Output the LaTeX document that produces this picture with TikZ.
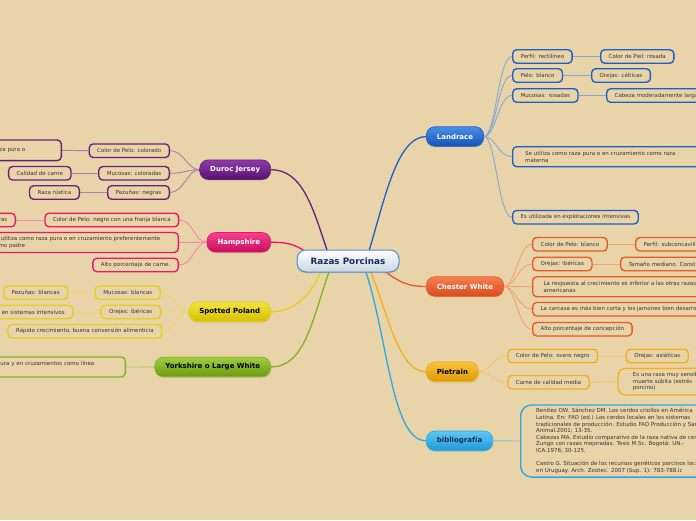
\documentclass[tikz,border=0pt]{standalone}
\usepackage{fontspec}
\setmainfont{DejaVu Sans}
\usetikzlibrary{backgrounds,shadows}
\definecolor{bg}{HTML}{E8D4A8}
\definecolor{txt}{HTML}{3C3530}
\definecolor{bluetop}{HTML}{4A8FE6}\definecolor{bluebot}{HTML}{1254B8}\definecolor{blueline}{HTML}{1C5FC8}\definecolor{bluelt}{HTML}{86A8D4}
\definecolor{ortop}{HTML}{F5804F}\definecolor{orbot}{HTML}{D94A1E}\definecolor{orline}{HTML}{E8582A}\definecolor{orlt}{HTML}{F2A078}
\definecolor{gotop}{HTML}{F9C43A}\definecolor{gobot}{HTML}{DE9A08}\definecolor{goline}{HTML}{F2B01C}\definecolor{golt}{HTML}{F3C865}
\definecolor{lbtop}{HTML}{5CC8F4}\definecolor{lbbot}{HTML}{1E9AD8}\definecolor{lbline}{HTML}{2AA8E6}\definecolor{lblt}{HTML}{78C4E8}
\definecolor{putop}{HTML}{8E3CA8}\definecolor{pubot}{HTML}{581270}\definecolor{puline}{HTML}{66207E}\definecolor{pult}{HTML}{A880B4}
\definecolor{pktop}{HTML}{F4418E}\definecolor{pkbot}{HTML}{C80F5E}\definecolor{pkline}{HTML}{E8166C}\definecolor{pklt}{HTML}{F08AAE}
\definecolor{yetop}{HTML}{F2E23E}\definecolor{yebot}{HTML}{D6C004}\definecolor{yeline}{HTML}{E6CF1A}\definecolor{yelt}{HTML}{E9DA6A}
\definecolor{grtop}{HTML}{A0CE42}\definecolor{grbot}{HTML}{6A9A12}\definecolor{grline}{HTML}{82B222}\definecolor{grlt}{HTML}{ADCA5E}
\definecolor{cbot}{HTML}{C9D5E2}\definecolor{cline}{HTML}{4A8FD0}\definecolor{ctext}{HTML}{1B2A55}
\newcommand\fs{\fontsize{5.5}{6.6}\selectfont}
\newcommand\fmn{\fontsize{7}{8}\selectfont\bfseries}
\newcommand\fcn{\fontsize{8.8}{10}\selectfont\bfseries}
\begin{document}
\begin{tikzpicture}[x=1pt,y=-1pt,
  sub/.style={draw, rounded corners=4pt, line width=1.35pt, fill=bg, font=\fs, text=txt, inner xsep=8pt, inner ysep=1pt, minimum height=13.5pt},
  subR/.style={sub, anchor=west},
  subL/.style={sub, anchor=east},
  mainbox/.style={rounded corners=8.5pt, line width=.7pt, minimum height=19.5pt, inner xsep=10.5pt, font=\fmn, drop shadow={opacity=.25, shadow xshift=0pt, shadow yshift=-1.2pt}},
  mainR/.style={mainbox, anchor=west},
  mainL/.style={mainbox, anchor=east},
  trunk/.style={line width=1.3pt},
  twig/.style={line width=.9pt}]
\useasboundingbox (0,0) rectangle (696,520);
\clip (0,0) rectangle (696,520);
\begin{pgfonlayer}{background}
\fill[bg] (0,0) rectangle (696,520);
\end{pgfonlayer}

% centre
\node[rounded corners=9pt, line width=1pt, draw=cline, top color=white, bottom color=cbot, minimum width=102pt, minimum height=22pt, font=\fcn, text=ctext, drop shadow={opacity=.25, shadow xshift=0pt, shadow yshift=-1.2pt}] (C) at (348,261) {Razas Porcinas};

% main branches
\node[mainR, top color=bluetop, bottom color=bluebot, draw=blueline, text=white] (L) at (426,136.5) {Landrace};
\node[mainR, top color=ortop, bottom color=orbot, draw=orline, text=white] (CW) at (426,286.5) {Chester White};
\node[mainR, top color=gotop, bottom color=gobot, draw=goline, text=black] (P) at (426,371.7) {Pietrain};
\node[mainR, top color=lbtop, bottom color=lbbot, draw=lbline, text=ctext] (B) at (426,440.8) {bibliografía};
\node[mainL, top color=putop, bottom color=pubot, draw=puline, text=white] (D) at (271,169.7) {Duroc Jersey};
\node[mainL, top color=pktop, bottom color=pkbot, draw=pkline, text=white] (H) at (271,242.3) {Hampshire};
\node[mainL, top color=yetop, bottom color=yebot, draw=yeline, text=black] (S) at (271,311.7) {Spotted Poland};
\node[mainL, top color=grtop, bottom color=grbot, draw=grline, text=black] (Y) at (271,366.9) {Yorkshire o Large White};

% Landrace
\begin{scope}[every node/.append style={draw=blueline}]
\node[subR] (l1) at (512,56.5) {Perfil: rectilíneo};
\node[subR] (l1a) at (600,56.5) {Color de Piel: rosada};
\node[subR] (l2) at (512,75.5) {Pelo: blanco};
\node[subR] (l2a) at (591,75.5) {Orejas: célticas};
\node[subR] (l3) at (512,95.5) {Mucosas: rosadas};
\node[subR] (l3a) at (606,95.5) {Cabeza moderadamente larga};
\node[subR, align=left, inner xsep=12.5pt, minimum height=20pt] (l4) at (512,156.7) {Se utiliza como raza pura o en cruzamiento como raza\rule{30pt}{0pt}\\materna};
\node[subR] (l5) at (512,217.2) {Es utilizada en explotaciones intensivas};
\end{scope}

% Chester White
\begin{scope}[every node/.append style={draw=orline}]
\node[subR] (c1) at (532,244.3) {Color de Pelo: blanco};
\node[subR] (c1a) at (635,244.3) {Perfil: subconcavilíneo};
\node[subR] (c2) at (532,264) {Orejas: ibéricas};
\node[subR] (c2a) at (620,264) {Tamaño mediano. Const};
\node[subR, align=left, inner xsep=11pt, minimum height=20pt] (c3) at (532,286.7) {La respuesta al crecimiento es inferior a las otras razas\\americanas};
\node[subR] (c4) at (532,309.2) {La carcasa es más bien corta y los jamones bien desarrollados};
\node[subR] (c5) at (532,329.2) {Alto porcentaje de concepción};
\end{scope}

% Pietrain
\begin{scope}[every node/.append style={draw=goline}]
\node[subR] (p1) at (507.3,356) {Color de Pelo: overo negro};
\node[subR] (p1a) at (625.7,356) {Orejas: asiáticas};
\node[subR] (p2) at (507.3,382.3) {Carne de calidad media};
\node[subR, align=left, inner xsep=15pt, rounded corners=8pt, minimum height=26.7pt] (p2a) at (617.3,381.7) {Es una raza muy sensible a la\\muerte súbita (estrés\\porcino)};
\end{scope}

% bibliografia
\node[subR, draw=lbline, align=left, inner xsep=15.5pt, inner ysep=3.6pt, rounded corners=11pt, minimum height=72pt] (b1) at (520,441) {Benítez OW, Sánchez DM. Los cerdos criollos en América\\Latina. En: FAO (ed.) Los cerdos locales en los sistemas\\tradicionales de producción. Estudio FAO Producción y Sanidad\\Animal.2001; 13-35.\\Cabezas MA. Estudio comparativo de la raza nativa de cerdo\\Zungo con razas mejoradas. Tesis M.Sc. Bogotá: UN.-\\ICA.1976; 30-125.\\\mbox{}\\Castro G. Situación de los recursos genéticos porcinos locales\\en Uruguay. Arch. Zootec. 2007 (Sup. 1): 783-788.ic};

% Duroc Jersey
\begin{scope}[every node/.append style={draw=puline}]
\node[subL] (d1) at (170,150.7) {Color de Pelo: colorado};
\node[subL, text width=60pt, align=right, minimum height=20.7pt] (d1a) at (62,150.3) {raza pura o\rule{28pt}{0pt}};
\node[subL] (d2) at (170,173.3) {Mucosas: coloradas};
\node[subL] (d2a) at (71.7,173.3) {Calidad de carne};
\node[subL] (d3) at (170,192.5) {Pezuñas: negras};
\node[subL] (d3a) at (80,192.5) {Raza rústica};
\end{scope}

% Hampshire
\begin{scope}[every node/.append style={draw=pkline}]
\node[subL] (h1) at (179.3,220) {Color de Pelo: negro con una franja blanca};
\node[subL, text width=30pt, align=right] (h1a) at (16,220) {ras};
\node[subL, align=left, minimum height=20pt] (h2) at (179,242.5) {Se utiliza como raza pura o en cruzamiento preferentemente\rule{10pt}{0pt}\\como padre};
\node[subL] (h3) at (179,265) {Alto porcentaje de carne.};
\end{scope}

% Spotted Poland
\begin{scope}[every node/.append style={draw=yeline}]
\node[subL] (s1) at (161,292.7) {Mucosas: blancas};
\node[subL] (s1a) at (68.3,292.7) {Pezuñas: blancas};
\node[subL] (s2) at (161,312) {Orejas: ibéricas};
\node[subL, text width=70pt, align=right] (s2a) at (73.3,312) {en sistemas intensivos};
\node[subL] (s3) at (162.3,331.3) {Rápido crecimiento, buena conversión alimenticia};
\end{scope}

% Yorkshire
\node[subL, draw=grline, text width=140pt, align=right, minimum height=20pt] (y1) at (126,367) {pura y en cruzamientos como línea\rule{23pt}{0pt}\\\mbox{}};

\begin{pgfonlayer}{background}
\coordinate (tL) at (369,251);
\coordinate (tD) at (327,250);
\coordinate (tH) at (306,252);
\coordinate (tS) at (321,272);
\coordinate (tY) at (329,272);
\coordinate (tCW) at (386,272);
\coordinate (tP) at (371,272);
\coordinate (tB) at (366,272);
\draw[trunk, blueline] (tL) .. controls (385,198) and (397,137) .. (L.west);
\draw[trunk, puline] (tD) .. controls (312,205) and (302,170) .. (D.east);
\draw[trunk, pkline] (tH) .. controls (295,244) and (285,242) .. (H.east);
\draw[trunk, yeline] (tS) .. controls (310,295) and (295,312) .. (S.east);
\draw[trunk, grline] (tY) .. controls (312,320) and (305,367) .. (Y.east);
\draw[trunk, orline] (tCW) .. controls (400,283) and (410,286.5) .. (CW.west);
\draw[trunk, goline] (tP) .. controls (390,322) and (400,371.7) .. (P.west);
\draw[trunk, lbline] (tB) .. controls (388,340) and (392,440.8) .. (B.west);

\begin{scope}[twig, bluelt]
\foreach \n in {l1,l2,l3,l4,l5} \draw (L.east) .. controls +(12,0) and +(-14,0) .. (\n.west);
\draw (l1.east) -- (l1a.west);
\draw (l2.east) -- (l2a.west);
\draw (l3.east) -- (l3a.west);
\end{scope}
\begin{scope}[twig, orlt]
\foreach \n in {c1,c2,c3,c4,c5} \draw (CW.east) .. controls +(12,0) and +(-14,0) .. (\n.west);
\draw (c1.east) -- (c1a.west);
\draw (c2.east) -- (c2a.west);
\end{scope}
\begin{scope}[twig, golt]
\foreach \n in {p1,p2} \draw (P.east) .. controls +(12,0) and +(-14,0) .. (\n.west);
\draw (p1.east) -- (p1a.west);
\draw (p2.east) -- (p2a.west);
\end{scope}
\draw[twig, lblt] (B.east) -- (b1.west);
\begin{scope}[twig, pult]
\foreach \n in {d1,d2,d3} \draw (D.west) .. controls +(-12,0) and +(14,0) .. (\n.east);
\draw (d1.west) -- (d1a.east);
\draw (d2.west) -- (d2a.east);
\draw (d3.west) -- (d3a.east);
\end{scope}
\begin{scope}[twig, pklt]
\foreach \n in {h1,h2,h3} \draw (H.west) .. controls +(-12,0) and +(14,0) .. (\n.east);
\draw (h1.west) -- (h1a.east);
\end{scope}
\begin{scope}[twig, yelt]
\foreach \n in {s1,s2,s3} \draw (S.west) .. controls +(-12,0) and +(14,0) .. (\n.east);
\draw (s1.west) -- (s1a.east);
\draw (s2.west) -- (s2a.east);
\end{scope}
\draw[twig, grlt] (Y.west) -- (y1.east);
\end{pgfonlayer}
\end{tikzpicture}
\end{document}
